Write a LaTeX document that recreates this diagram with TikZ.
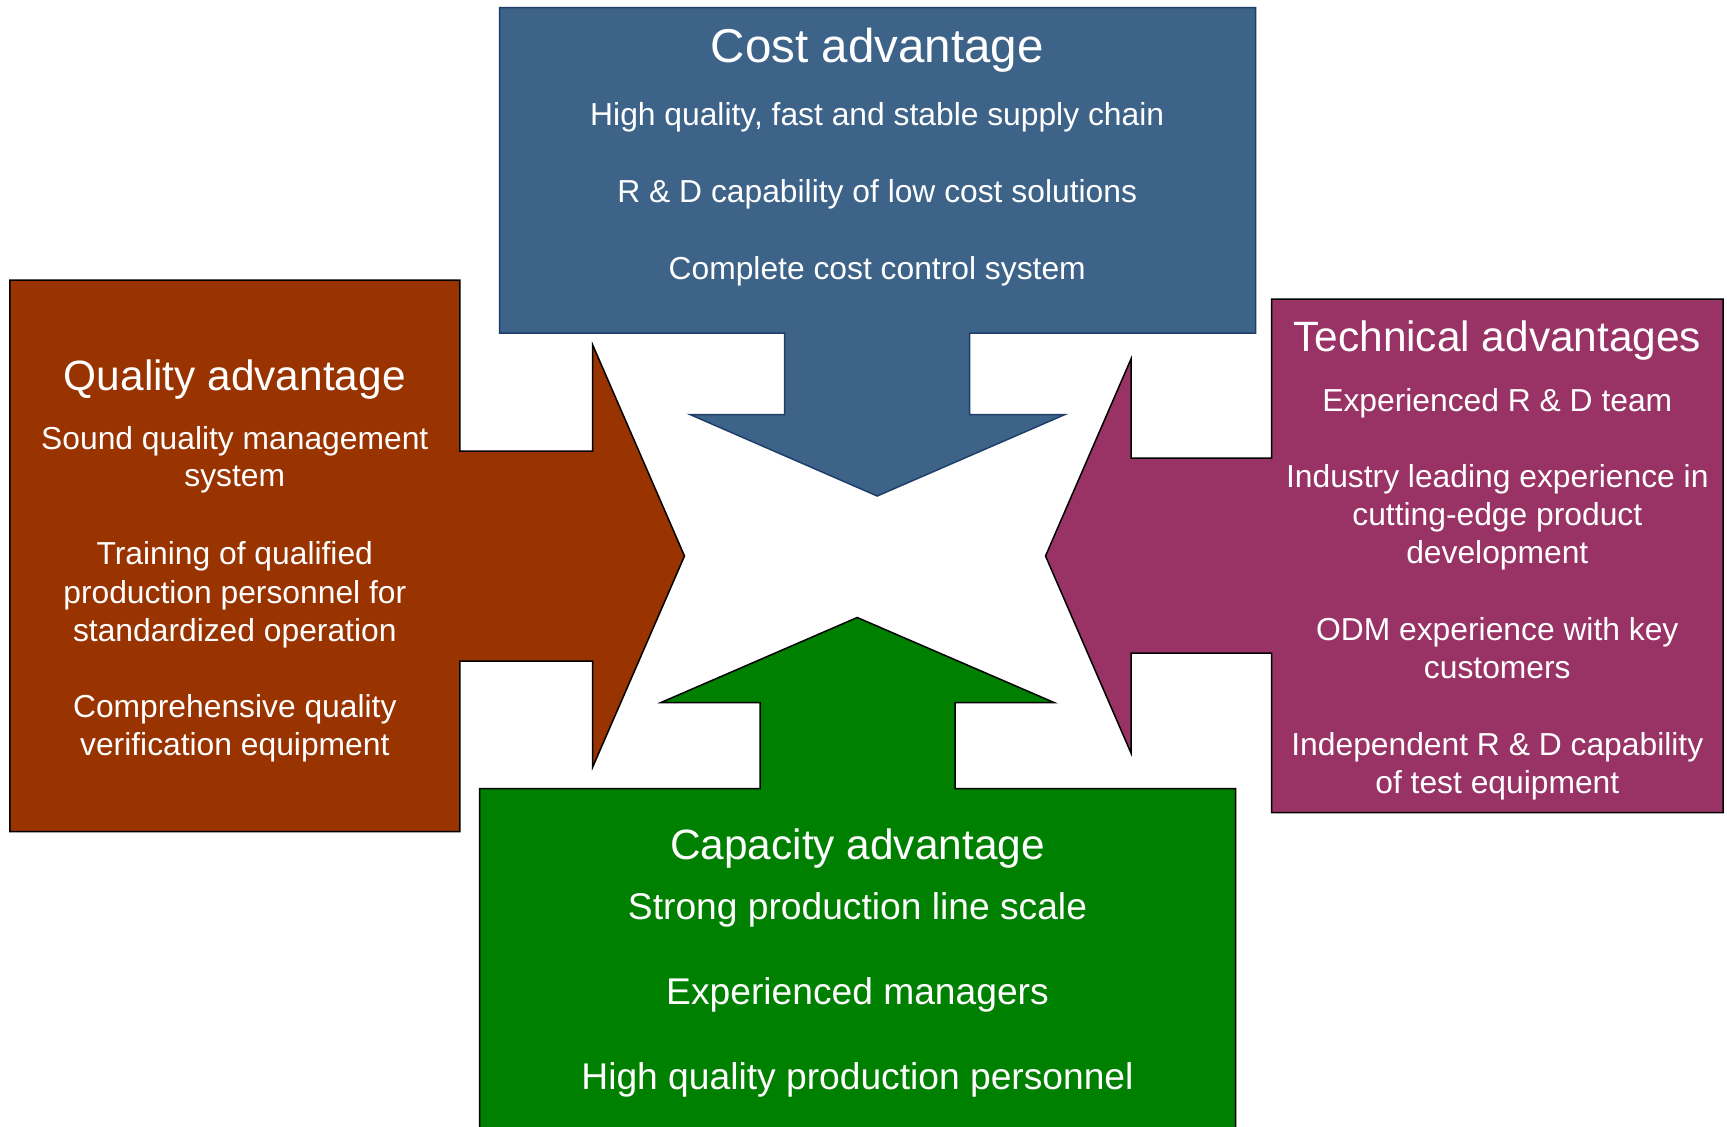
\documentclass[tikz,border=0pt]{standalone}
\usepackage{fontspec}
\setmainfont{Liberation Sans}
\definecolor{costfill}{HTML}{3D6389}
\definecolor{costline}{HTML}{1F3F6A}
\definecolor{qualfill}{HTML}{993300}
\definecolor{techfill}{HTML}{993366}
\definecolor{capfill}{HTML}{008000}
\tikzset{
  shapeline/.style={line width=1.5pt, line join=miter},
  ttl/.style={text=white, anchor=base, inner sep=0pt, yshift=-1pt, font=\fontsize{42.4}{50}\selectfont},
  bigttl/.style={text=white, anchor=base, inner sep=0pt, font=\fontsize{47.5}{56}\selectfont},
  bodytxt/.style={text=white, anchor=base, inner sep=0pt, yshift=-2pt, font=\fontsize{31.8}{38}\selectfont},
  capbody/.style={text=white, anchor=base, inner sep=0pt, yshift=-1.5pt, font=\fontsize{37.2}{44}\selectfont}
}
\begin{document}
\begin{tikzpicture}[x=1pt,y=-1pt]
\useasboundingbox (0,0) rectangle (1727,1127);
\begin{scope}
\clip (0,0) rectangle (1727,1127);
% Cost (blue, down arrow)
\draw[shapeline, draw=costline, fill=costfill]
  (499.5,7.5) -- (1255.5,7.5) -- (1255.5,333) -- (969.5,333) -- (969.5,414.5)
  -- (1065,414.5) -- (877.2,496) -- (690,414.5) -- (784.5,414.5) -- (784.5,333)
  -- (499.5,333) -- cycle;
% Quality (brown, right arrow)
\draw[shapeline, draw=black, fill=qualfill]
  (9.8,280) -- (459.8,280) -- (459.8,451) -- (592.5,451) -- (592.5,344.5)
  -- (684.5,556) -- (592.5,767.5) -- (592.5,661) -- (459.8,661) -- (459.8,831.5)
  -- (9.8,831.5) -- cycle;
% Technical (purple, left arrow)
\draw[shapeline, draw=black, fill=techfill]
  (1723,299) -- (1723,812.5) -- (1271.5,812.5) -- (1271.5,653) -- (1131,653)
  -- (1131,753) -- (1045.5,556) -- (1131,359) -- (1131,458) -- (1271.5,458)
  -- (1271.5,299) -- cycle;
% Capacity (green, up arrow)
\draw[shapeline, draw=black, fill=capfill]
  (479.5,1150) -- (479.5,788.5) -- (760,788.5) -- (760,702.5) -- (661,702.5)
  -- (857.2,617.5) -- (1054,702.5) -- (955,702.5) -- (955,788.5) -- (1235.5,788.5)
  -- (1235.5,1150) -- cycle;
\end{scope}
% Cost texts
\node[bigttl] (costT) at (877.2,62.7) {Cost advantage};
\node[bodytxt] (cost1) at (877.2,123.3) {High quality, fast and stable supply chain};
\node[bodytxt] (cost2) at (877.2,200) {R \& D capability of low cost solutions};
\node[bodytxt] (cost3) at (877.2,277) {Complete cost control system};
% Quality texts
\node[ttl] (qualT) at (234.8,389.3) {Quality advantage};
\node[bodytxt] (qual1a) at (234.8,447.5) {Sound quality management};
\node[bodytxt] (qual1b) at (234.8,484.5) {system};
\node[bodytxt] (qual2a) at (234.8,562.7) {Training of qualified};
\node[bodytxt] (qual2b) at (234.8,601) {production personnel for};
\node[bodytxt] (qual2c) at (234.8,639) {standardized operation};
\node[bodytxt] (qual3a) at (234.8,715.5) {Comprehensive quality};
\node[bodytxt] (qual3b) at (234.8,753.6) {verification equipment};
% Technical texts
\node[ttl] (techT) at (1497.3,350) {Technical advantages};
\node[bodytxt] (tech1) at (1497.3,409) {Experienced R \& D team};
\node[bodytxt] (tech2a) at (1497.3,485.3) {Industry leading experience in};
\node[bodytxt] (tech2b) at (1497.3,523) {cutting-edge product};
\node[bodytxt] (tech2c) at (1497.3,561.3) {development};
\node[bodytxt] (tech3a) at (1497.3,638) {ODM experience with key};
\node[bodytxt] (tech3b) at (1497.3,676) {customers};
\node[bodytxt] (tech4a) at (1497.3,753.5) {Independent R \& D capability};
\node[bodytxt] (tech4b) at (1497.3,791.7) {of test equipment};
% Capacity texts
\node[ttl] (capT) at (857.5,858) {Capacity advantage};
\node[capbody] (cap1) at (857.5,917.6) {Strong production line scale};
\node[capbody] (cap2) at (857.5,1002.7) {Experienced managers};
\node[capbody] (cap3) at (857.5,1088) {High quality production personnel};
\end{tikzpicture}
\end{document}
